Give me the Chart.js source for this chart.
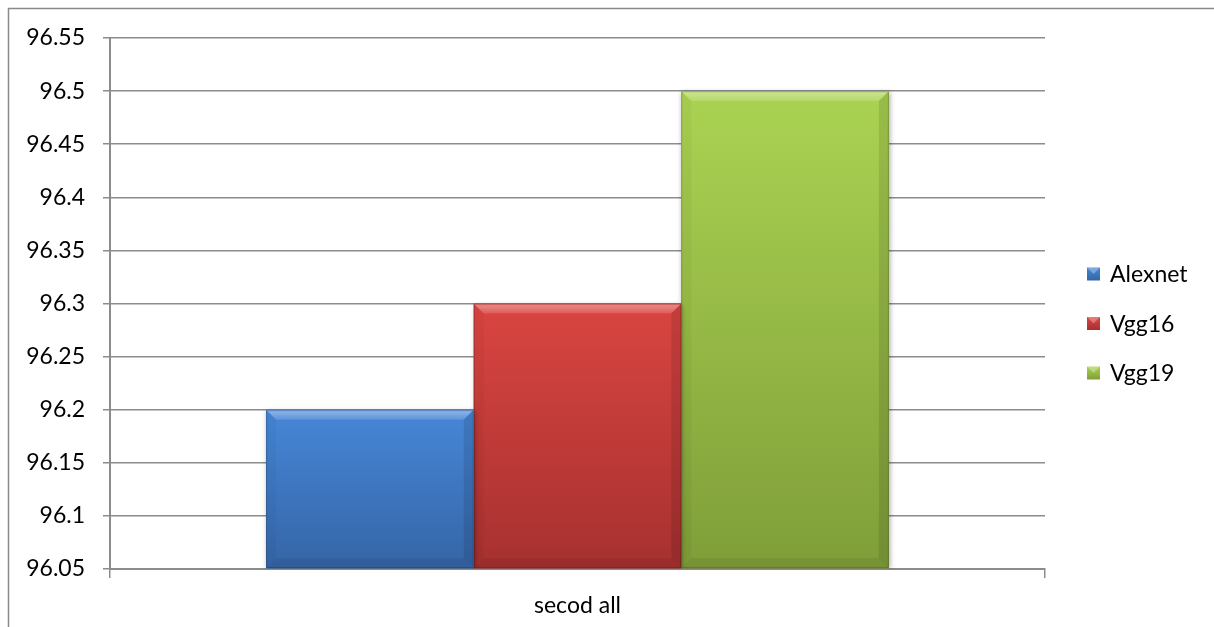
<!DOCTYPE html>
<html>
<head>
<meta charset="utf-8">
<script src="https://cdn.jsdelivr.net/npm/chart.js@4/dist/chart.umd.min.js"></script>
<style>
  html, body { margin: 0; padding: 0; background: #fff; }
  #wrap { position: relative; width: 1214px; height: 627px; }
</style>
</head>
<body>
<div id="wrap"><canvas id="accuracy-chart" width="1214" height="627"></canvas></div>
<script>
// Accuracy per network
const categories = ['secod all'];
const seriesNames = ['Alexnet', 'Vgg16', 'Vgg19'];
const alexnetValues = [96.2];
const vgg16Values = [96.3];
const vgg19Values = [96.5];
const yTickValues = [96.05, 96.1, 96.15, 96.2, 96.25, 96.3, 96.35, 96.4, 96.45, 96.5, 96.55];

// Fill colours for each series (top and bottom of the bar gradient)
const seriesColors = [
    { top: '#4687d8', bottom: '#3565a6' },
    { top: '#da4541', bottom: '#a63130' },
    { top: '#abd352', bottom: '#7f9e39' }
];

const FONT = 'Lato, "Open Sans", sans-serif';
const GRID = '#8c8c8c';
const axisBase = yTickValues[0];

// Page frame + white background
const framePlugin = {
    id: 'frame',
    beforeDraw(chart) {
        const ctx = chart.ctx;
        ctx.save();
        ctx.fillStyle = '#fff';
        ctx.fillRect(0, 0, chart.width, chart.height);
        ctx.strokeStyle = '#8a8a8a';
        ctx.lineWidth = 1.5;
        ctx.beginPath();
        ctx.moveTo(8.5, chart.height);
        ctx.lineTo(8.5, 8.5);
        ctx.lineTo(chart.width, 8.5);
        ctx.stroke();
        ctx.restore();
    }
};

// Soft shadow under the bars, then gradient + bevel on top of them
const bevelPlugin = {
    id: 'bevel',
    beforeDatasetDraw(chart) {
        const ctx = chart.ctx;
        ctx.save();
        ctx.shadowColor = 'rgba(0,0,0,0.35)';
        ctx.shadowBlur = 5;
        ctx.shadowOffsetX = 1;
        ctx.shadowOffsetY = 1;
    },
    afterDatasetDraw(chart, args) {
        const ctx = chart.ctx;
        ctx.restore();
        const colors = seriesColors[args.index];
        args.meta.data.forEach(bar => {
            const { x, y, base, width } = bar.getProps(['x', 'y', 'base', 'width'], true);
            const x0 = x - width / 2, x1 = x + width / 2;
            const y0 = y, y1 = base;
            const b = 10;

            ctx.save();
            const g = ctx.createLinearGradient(0, y0, 0, y1);
            g.addColorStop(0, colors.top);
            g.addColorStop(1, colors.bottom);
            ctx.fillStyle = g;
            ctx.fillRect(x0, y0, x1 - x0, y1 - y0);

            // top bevel
            const tg = ctx.createLinearGradient(0, y0, 0, y0 + b);
            tg.addColorStop(0, 'rgba(255,255,255,0.15)');
            tg.addColorStop(0.25, 'rgba(255,255,255,0.35)');
            tg.addColorStop(1, 'rgba(255,255,255,0.12)');
            ctx.fillStyle = tg;
            ctx.beginPath();
            ctx.moveTo(x0, y0); ctx.lineTo(x1, y0);
            ctx.lineTo(x1 - b, y0 + b); ctx.lineTo(x0 + b, y0 + b);
            ctx.closePath(); ctx.fill();

            // right bevel
            ctx.fillStyle = 'rgba(0,0,0,0.1)';
            ctx.beginPath();
            ctx.moveTo(x1, y0); ctx.lineTo(x1, y1);
            ctx.lineTo(x1 - b, y1 - b); ctx.lineTo(x1 - b, y0 + b);
            ctx.closePath(); ctx.fill();

            // bottom bevel
            ctx.fillStyle = 'rgba(0,0,0,0.07)';
            ctx.beginPath();
            ctx.moveTo(x0, y1); ctx.lineTo(x1, y1);
            ctx.lineTo(x1 - b, y1 - b); ctx.lineTo(x0 + b, y1 - b);
            ctx.closePath(); ctx.fill();

            // left bevel
            ctx.fillStyle = 'rgba(0,0,0,0.03)';
            ctx.beginPath();
            ctx.moveTo(x0, y0); ctx.lineTo(x0, y1);
            ctx.lineTo(x0 + b, y1 - b); ctx.lineTo(x0 + b, y0 + b);
            ctx.closePath(); ctx.fill();

            ctx.strokeStyle = 'rgba(0,0,0,0.2)';
            ctx.lineWidth = 1;
            ctx.strokeRect(x0 + 0.5, y0 + 0.5, x1 - x0 - 1, y1 - y0 - 1);
            ctx.restore();
        });
    }
};

// Legend on the right side
const legendPlugin = {
    id: 'sideLegend',
    afterDraw(chart) {
        const ctx = chart.ctx;
        const left = 1087, size = 13, gap = 49.5;
        const firstY = 274;
        ctx.save();
        ctx.font = '23px ' + FONT;
        ctx.textBaseline = 'middle';
        seriesNames.forEach((name, i) => {
            const cy = firstY + i * gap;
            const c = seriesColors[i];
            const g = ctx.createLinearGradient(0, cy - size / 2, 0, cy + size / 2);
            g.addColorStop(0, c.top);
            g.addColorStop(1, c.bottom);
            ctx.fillStyle = g;
            ctx.fillRect(left, cy - size / 2, size, size);
            ctx.fillStyle = 'rgba(255,255,255,0.3)';
            ctx.beginPath();
            ctx.moveTo(left, cy - size / 2);
            ctx.lineTo(left + size, cy - size / 2);
            ctx.lineTo(left + size / 2, cy);
            ctx.closePath(); ctx.fill();
            ctx.fillStyle = '#000';
            ctx.fillText(name, left + 23, cy + 1);
        });
        ctx.restore();
    }
};

const ctx = document.getElementById('accuracy-chart').getContext('2d');

new Chart(ctx, {
    type: 'bar',
    data: {
        labels: categories,
        datasets: [
            { label: seriesNames[0], data: alexnetValues, base: axisBase, backgroundColor: seriesColors[0].top },
            { label: seriesNames[1], data: vgg16Values, base: axisBase, backgroundColor: seriesColors[1].top },
            { label: seriesNames[2], data: vgg19Values, base: axisBase, backgroundColor: seriesColors[2].top }
        ]
    },
    options: {
        responsive: false,
        animation: false,
        devicePixelRatio: 1,
        categoryPercentage: 0.666,
        barPercentage: 1,
        layout: { padding: { left: 10, right: 169, top: 38, bottom: 0 } },
        plugins: {
            legend: { display: false },
            tooltip: { enabled: false }
        },
        scales: {
            x: {
                grid: {
                    display: true,
                    drawOnChartArea: false,
                    drawTicks: true,
                    tickLength: 9,
                    color: GRID,
                    lineWidth: 1.5
                },
                border: { color: GRID, width: 2 },
                ticks: {
                    color: '#000',
                    font: { family: FONT, size: 23 },
                    padding: 14
                },
                afterFit(scale) { scale.height = 58; }
            },
            y: {
                min: 96.05,
                max: 96.55,
                afterBuildTicks(scale) {
                    scale.ticks = yTickValues.map(v => ({ value: v }));
                },
                grid: {
                    color: GRID,
                    lineWidth: 1.5,
                    tickLength: 7
                },
                border: { color: GRID, width: 2 },
                ticks: {
                    color: '#000',
                    font: { family: FONT, size: 23 },
                    padding: 18,
                    callback: value => String(parseFloat(value.toFixed(2)))
                },
                afterFit(scale) { scale.width = 100; }
            }
        }
    },
    plugins: [framePlugin, bevelPlugin, legendPlugin]
});
</script>
</body>
</html>
